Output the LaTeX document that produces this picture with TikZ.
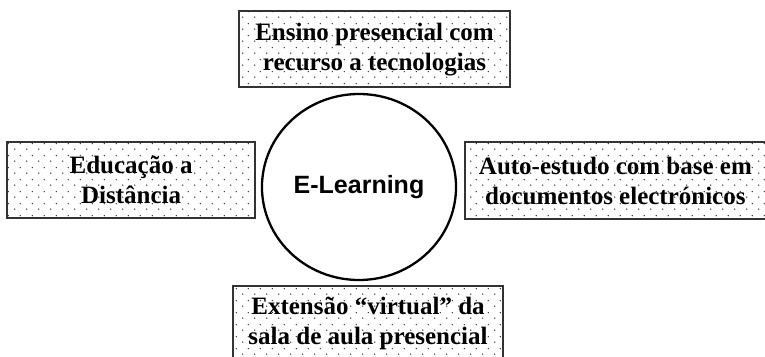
\documentclass[tikz,border=0pt]{standalone}
\usepackage{fontspec}
\setmainfont{Liberation Serif}
\newfontfamily\sansbold{Liberation Sans}
\usepackage{tikz}
\usetikzlibrary{shapes.geometric, positioning, patterns.meta}
\tikzdeclarepattern{
  name=sparsedots,
  tile size={(12pt,12pt)},
  bounding box={(0pt,0pt) and (12pt,12pt)},
  code={
    \fill (3pt,3pt) circle (0.8pt);
    \fill (9pt,9pt) circle (0.8pt);
  }
}
\tikzstyle{center} = [ellipse, draw=black, line width=2.3pt, minimum width=194pt, minimum height=186pt, font=\sansbold\fontsize{25}{29}\selectfont\bfseries]
\tikzstyle{variant} = [rectangle, draw=black!80, line width=1.4pt, pattern={sparsedots}, pattern color=black!80, align=center, minimum height=76pt, inner sep=0pt, font=\fontsize{25}{30}\selectfont\bfseries]

\begin{document}
\begin{tikzpicture}[x=1pt, y=-1pt]
\useasboundingbox (0,0) rectangle (765,356);

% Nodes
\node (elearn) [center] at (359,187) {E-Learning};
\node (presencial) [variant, minimum width=271pt, above=5pt of elearn, xshift=15.5pt] {Ensino presencial com\\recurso a tecnologias};
\node (distancia) [variant, minimum width=248pt, left=5pt of elearn, yshift=7pt] {Educação a\\Distância};
\node (autoestudo) [variant, minimum width=301pt, minimum height=77pt, right=7pt of elearn, yshift=6.5pt] {Auto-estudo com base em\\documentos electrónicos};
\node (extensao) [variant, minimum width=270pt, below=4pt of elearn, xshift=9pt] {Extensão “virtual” da\\sala de aula presencial};

\end{tikzpicture}
\end{document}
